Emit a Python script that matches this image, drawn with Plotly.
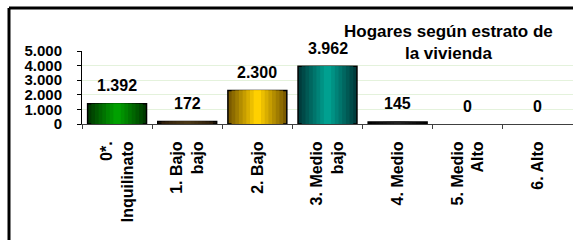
import plotly.graph_objects as go

categories = ["0*.<br>Inquilinato", "1. Bajo<br>bajo", "2. Bajo", "3. Medio<br>bajo",
              "4. Medio", "5. Medio<br>Alto", "6. Alto"]
values = [1392, 172, 2300, 3962, 145, 0, 0]
edge_colors = ["#003a00", "#2a1a08", "#7a5a00", "#003c3c", "#000000", "#000000", "#000000"]
center_colors = ["#00a000", "#4a3818", "#ffd000", "#00a090", "#202020", "#202020", "#202020"]
title_text = "<b>Hogares según estrato de<br>la vivienda</b>"

W, H = 573, 240
L, R, T, B = 82, 0, 51, 116
PW, PH = W - L - R, H - T - B

def mix(c1, c2, t):
    a = [int(c1[i:i + 2], 16) for i in (1, 3, 5)]
    b = [int(c2[i:i + 2], 16) for i in (1, 3, 5)]
    return "#%02x%02x%02x" % tuple(round(a[k] + (b[k] - a[k]) * t) for k in range(3))

FONT = "Arial, Liberation Sans, sans-serif"
fig = go.Figure()
N = 8
BW = 0.84
for i in range(N):
    t = i / (N - 1)
    w = BW * (1 - i / N)
    fig.add_trace(go.Bar(
        x=categories, y=values, width=w,
        marker=dict(color=[mix(e, c, t) for e, c in zip(edge_colors, center_colors)],
                    line=dict(color="black",
                              width=[1.5 if (i == 0 and v > 0) else 0 for v in values])),
        hoverinfo="skip", showlegend=False))

for c, v in zip(categories, values):
    fig.add_annotation(x=c, y=v, yshift=18, yanchor="middle", showarrow=False,
                       text="<b>" + f"{v:,}".replace(",", ".") + "</b>",
                       font=dict(family=FONT, size=16, color="black"))

fig.add_annotation(x=(448 - L) / PW, y=(T + PH - 42) / PH, xref="paper", yref="paper",
                   xanchor="center", yanchor="middle", showarrow=False, text=title_text,
                   font=dict(family=FONT, size=17, color="black"), align="center")

# outer frame (top and left edges visible)
fx = (9 - L) / PW
fy = (T + PH - 8) / PH
fig.add_shape(type="line", xref="paper", yref="paper", x0=fx, x1=(W + 5 - L) / PW, y0=fy, y1=fy,
              line=dict(color="black", width=3))
fig.add_shape(type="line", xref="paper", yref="paper", x0=fx, x1=fx, y0=fy, y1=-(B + 5) / PH,
              line=dict(color="black", width=3))

fig.update_layout(
    width=W, height=H, margin=dict(l=L, r=R, t=T, b=B, autoexpand=False),
    barmode="overlay", paper_bgcolor="white", plot_bgcolor="white",
    separators=",.", font=dict(family=FONT, size=16, color="black"),
    xaxis=dict(showline=True, linecolor="#404040", linewidth=1, ticks="outside", ticklen=4,
               tickcolor="#404040", tickson="boundaries", tickangle=-90, showgrid=False,
               automargin=False,
               tickfont=dict(family=FONT, size=16, color="black"), ticklabelstandoff=10),
    yaxis=dict(range=[0, 5000], dtick=1000, tickformat=",d", showline=True, linecolor="black",
               linewidth=1, ticks="outside", ticklen=4, tickcolor="black", showgrid=True,
               gridcolor="#e4f2dc", zeroline=False, ticklabelstandoff=12, automargin=False,
               tickfont=dict(family=FONT, size=15, color="black")),
)
fig.update_xaxes(tickprefix="<b>", ticksuffix="</b>")
fig.update_yaxes(tickprefix="<b>", ticksuffix="</b>")
fig.write_html("out.html", config={"displayModeBar": False},
               post_script="document.body.style.margin='0';document.body.style.overflow='hidden';")
